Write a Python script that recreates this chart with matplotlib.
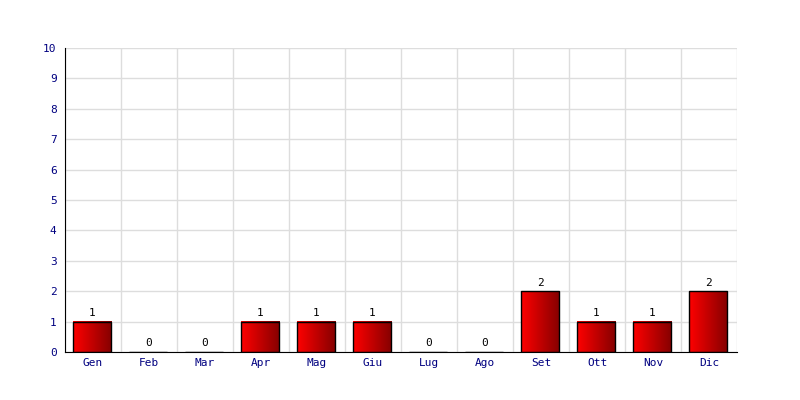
import matplotlib
matplotlib.use("Agg")
import matplotlib.pyplot as plt
import numpy as np
from matplotlib.colors import LinearSegmentedColormap

months = ["Gen", "Feb", "Mar", "Apr", "Mag", "Giu", "Lug", "Ago", "Set", "Ott", "Nov", "Dic"]
values = [1, 0, 0, 1, 1, 1, 0, 0, 2, 1, 1, 2]
yticks = list(range(0, 11))

plt.rcParams['font.family'] = ['DejaVu Sans Mono']

fig = plt.figure(figsize=(8, 4), dpi=100)
ax = fig.add_axes([65/800, 48/400, 672/800, 304/400])

x = np.arange(len(months))
width = 0.68
cmap = LinearSegmentedColormap.from_list("rg", ["#ff0000", "#840000"])
grad = np.linspace(0, 1, 256).reshape(1, -1)

for xi, v in zip(x, values):
    if v > 0:
        ax.imshow(grad, cmap=cmap, aspect='auto', extent=[xi - width/2 - 0.015, xi + width/2 - 0.015, 0, v], zorder=2, interpolation='bilinear')
bars = ax.bar(x - 0.015, values, width=width, facecolor='none', edgecolor='black', linewidth=1, zorder=3)

for xi, v in zip(x, values):
    ax.text(xi - 0.015, v + 0.12, str(v), ha='center', va='bottom', fontsize=8, color='black', zorder=4)

ax.set_xlim(-0.5, len(months) - 0.5)
ax.set_ylim(0, 10)
ax.set_yticks(yticks)
ax.set_xticks(x)
ax.set_xticklabels(months)
ax.set_xticks(np.arange(-0.5, len(months), 1), minor=True)
ax.tick_params(axis='both', which='both', length=0, labelsize=8, labelcolor='#000080')
ax.tick_params(axis='y', pad=6)
ax.tick_params(axis='x', pad=4)
ax.grid(True, which='minor', axis='x', color='#dddddd', linewidth=1, zorder=0)
ax.grid(True, which='major', axis='y', color='#dddddd', linewidth=1, zorder=0)
ax.set_axisbelow(True)
for s in ['top', 'right']:
    ax.spines[s].set_visible(False)
ax.spines['left'].set_color('black')
ax.spines['bottom'].set_color('black')

fig.savefig("out.png", dpi=100)
